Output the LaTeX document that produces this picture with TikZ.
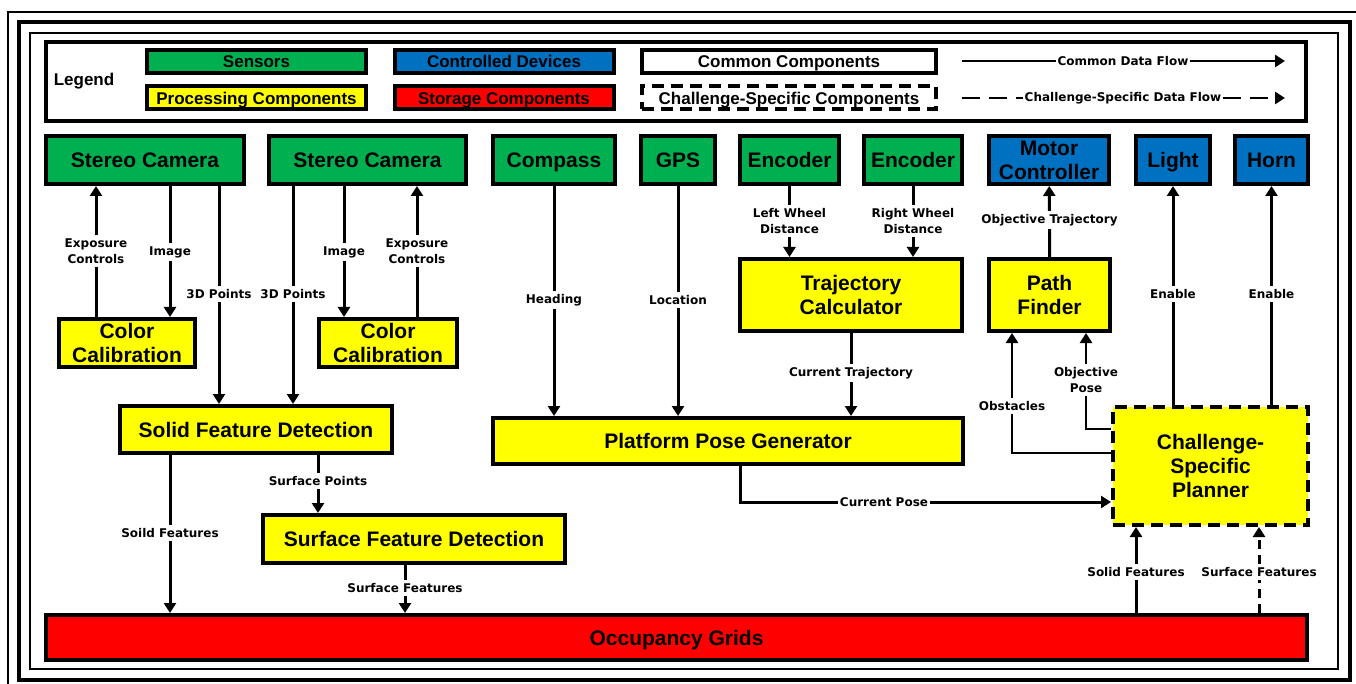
\documentclass[tikz,border=0pt]{standalone}
\usepackage{fontspec}
\setmainfont{Liberation Sans}
\newfontfamily\flowfont{DejaVu Sans}
\usetikzlibrary{arrows.meta,positioning}
\definecolor{sensgreen}{RGB}{0,176,80}
\definecolor{devblue}{RGB}{0,112,192}
\definecolor{procyellow}{RGB}{255,255,0}
\definecolor{storered}{RGB}{255,0,0}
\tikzset{%
	block/.style     = {draw, rectangle, line width=4pt, align=center, inner sep=0pt, font=\fontsize{21}{24}\selectfont\bfseries},
	oneline/.style   = {text height=19.4pt, text depth=4.4pt}, % single line, caps centred
	sensor/.style    = {block, fill=sensgreen}, % Sensors
	device/.style    = {block, fill=devblue}, % Controlled devices
	process/.style   = {block, fill=procyellow}, % Processing
	storage/.style   = {block, fill=storered}, % Storage
	special/.style   = {process, dash pattern=on 12pt off 7pt}, % Challenge-specific
	legbox/.style    = {minimum width=219pt, minimum height=23pt, text height=15.8pt, text depth=3.6pt, font=\fontsize{17}{20}\selectfont\bfseries},
	flowlabel/.style = {align=center, inner sep=3pt, font=\flowfont\fontsize{12}{16}\selectfont\bfseries},
	flow/.style      = {line width=3pt, ->},
	specflow/.style  = {flow, dash pattern=on 9pt off 6pt},
}

\begin{document}
\begin{tikzpicture}[x=1pt,y=-1pt,>={Triangle[length=10pt,width=12pt]}]
	\useasboundingbox (0,0) rectangle (1356,684);
	% frames
	\draw[line width=1.5pt] (8,684) -- (8,12) -- (1356,12);
	\draw[line width=4pt] (18.5,22.5) rectangle (1350,679.5);
	\draw[line width=2pt] (30,33) rectangle (1338,669);
	
	% legend
	\draw[line width=4pt] (46,42) rectangle (1306,121);
	\node[font=\fontsize{17}{20}\selectfont\bfseries] (leg) at (84,81) {Legend};
	\node[sensor, legbox] (lsens) at (256.5,61.5) {Sensors};
	\node[process, legbox] (lproc) at (256.5,98) {Processing Components};
	\node[device, legbox] (ldev) at (504,61.5) {Controlled Devices};
	\node[storage, legbox] (lstore) at (504,98) {Storage Components};
	\node[block, legbox, minimum width=294pt] (lcommon) at (789,61.5) {Common Components};
	\node[special, fill=white, legbox, minimum width=294pt] (lspecial) at (789,98) {Challenge-Specific Components};
	\coordinate (cfa) at (962,61);
	\coordinate (cfb) at (1285,61);
	\coordinate (sfa) at (962,98);
	\coordinate (sfb) at (1285,98);
	\node[flowlabel, inner sep=1.5pt] (lcf) at (1123,61) {Common Data Flow};
	\node[flowlabel, inner sep=1.5pt] (lsf) at (1123,98) {Challenge-Specific Data Flow};
	\draw[flow, line width=2.5pt] (cfa) -- (lcf) -- (cfb);
	\draw[flow, line width=2.5pt, dash pattern=on 18pt off 9pt] (sfa) -- (lsf) -- (sfb);
	
	% sensors and devices
	\node[sensor, oneline, minimum width=198pt, minimum height=48pt] (cam1) at (145,160) {Stereo Camera};
	\node[sensor, oneline, minimum width=197pt, minimum height=48pt] (cam2) at (367.5,160) {Stereo Camera};
	\node[sensor, oneline, minimum width=122pt, minimum height=48pt] (compass) at (554,160) {Compass};
	\node[sensor, oneline, minimum width=74pt, minimum height=48pt] (gps) at (678,160) {GPS};
	\node[sensor, oneline, minimum width=99pt, minimum height=48pt] (encl) at (789.5,160) {Encoder};
	\node[sensor, oneline, minimum width=98pt, minimum height=48pt] (encr) at (913,160) {Encoder};
	\node[device, minimum width=120pt, minimum height=48pt] (motor) at (1049,160) {Motor\\Controller};
	\node[device, oneline, minimum width=74pt, minimum height=48pt] (light) at (1173,160) {Light};
	\node[device, oneline, minimum width=73pt, minimum height=48pt] (horn) at (1271.5,160) {Horn};
	
	% processing and storage
	\node[process, minimum width=136pt, minimum height=48pt] (cal1) at (127,343) {Color\\Calibration};
	\node[process, minimum width=138pt, minimum height=48pt] (cal2) at (388,343) {Color\\Calibration};
	\node[process, oneline, minimum width=272pt, minimum height=47pt] (solid) at (256,429.5) {Solid Feature Detection};
	\node[process, oneline, minimum width=302pt, minimum height=48pt] (surf) at (414,539) {Surface Feature Detection};
	\node[process, minimum width=222pt, minimum height=72pt] (traj) at (851,295) {Trajectory\\Calculator};
	\node[process, minimum width=121pt, minimum height=72pt] (path) at (1049.5,295) {Path\\Finder};
	\node[process, oneline, minimum width=470pt, minimum height=46pt] (pose) at (728,441) {Platform Pose Generator};
	\node[special, minimum width=195pt, minimum height=118pt] (planner) at (1210.5,466) {Challenge-\\Specific\\Planner};
	\node[storage, oneline, minimum width=1261pt, minimum height=45pt] (grid) at (676.5,637.5) {Occupancy Grids};
	
	% flow labels
	\node[flowlabel] (exp1) at (96,251) {Exposure\\Controls};
	\node[flowlabel] (img1) at (170,252) {Image};
	\node[flowlabel] (pts1) at (219,294) {3D Points};
	\node[flowlabel] (pts2) at (293,294) {3D Points};
	\node[flowlabel] (img2) at (344,252) {Image};
	\node[flowlabel] (exp2) at (417,251) {Exposure\\Controls};
	\node[flowlabel] (head) at (554,300) {Heading};
	\node[flowlabel] (loc) at (678,300) {Location};
	\node[flowlabel] (lwd) at (789.5,221) {Left Wheel\\Distance};
	\node[flowlabel] (rwd) at (913,221) {Right Wheel\\Distance};
	\node[flowlabel] (curtraj) at (851,373) {Current Trajectory};
	\node[flowlabel] (objtraj) at (1049.5,220) {Objective Trajectory};
	\node[flowlabel] (en1) at (1173,294) {Enable};
	\node[flowlabel] (en2) at (1271.5,294) {Enable};
	\node[flowlabel] (obst) at (1012,406) {Obstacles};
	\node[flowlabel] (objpose) at (1086,380) {Objective\\Pose};
	\node[flowlabel, inner sep=1.5pt] (curpose) at (884,502) {Current Pose};
	\node[flowlabel] (spts) at (318,481) {Surface Points};
	\node[flowlabel] (sfeat) at (170,533) {Soild Features};
	\node[flowlabel] (sffeat) at (405,588) {Surface Features};
	\node[flowlabel] (psolid) at (1136,572) {Solid Features};
	\node[flowlabel] (psurf) at (1259,572) {Surface Features};
	
	% cameras
	\draw[flow] (cal1.north -| exp1) -- (exp1) -- (cam1.south -| exp1);
	\draw[flow] (cam1.south -| img1) -- (img1) -- (cal1.north -| img1);
	\draw[flow] (cam1.south -| pts1) -- (pts1) -- (solid.north -| pts1);
	\draw[flow] (cam2.south -| pts2) -- (pts2) -- (solid.north -| pts2);
	\draw[flow] (cam2.south -| img2) -- (img2) -- (cal2.north -| img2);
	\draw[flow] (cal2.north -| exp2) -- (exp2) -- (cam2.south -| exp2);
	
	% pose
	\draw[flow] (compass) -- (head) -- (pose.north -| head);
	\draw[flow] (gps) -- (loc) -- (pose.north -| loc);
	\draw[flow] (encl) -- (lwd) -- (traj.north -| lwd);
	\draw[flow] (encr) -- (rwd) -- (traj.north -| rwd);
	\draw[flow] (traj) -- (curtraj) -- (pose.north -| curtraj);
	\draw[flow] ([xshift=12pt]pose.south) |- (curpose) -- (curpose -| planner.west);
	
	% planner
	\draw[flow] (path) -- (objtraj) -- (motor);
	\draw[flow] (planner.north -| en1) -- (en1) -- (light);
	\draw[flow] (planner.north -| en2) -- (en2) -- (horn);
	\draw[flow, line width=2.5pt] ([yshift=13pt]planner.west) -| (obst) -- (path.south -| obst);
	\draw[flow, line width=2.5pt] ([yshift=37pt]planner.west) -| (objpose) -- (path.south -| objpose);
	
	% features
	\draw[flow] (solid.south -| spts) -- (spts) -- (surf.north -| spts);
	\draw[flow] (solid.south -| sfeat) -- (sfeat) -- (grid.north -| sfeat);
	\draw[flow] (surf.south -| sffeat) -- (sffeat) -- (grid.north -| sffeat);
	\draw[flow] (grid.north -| psolid) -- (psolid) -- (planner.south -| psolid);
	\draw[specflow] (grid.north -| psurf) -- (psurf) -- (planner.south -| psurf);
\end{tikzpicture}
\end{document}
